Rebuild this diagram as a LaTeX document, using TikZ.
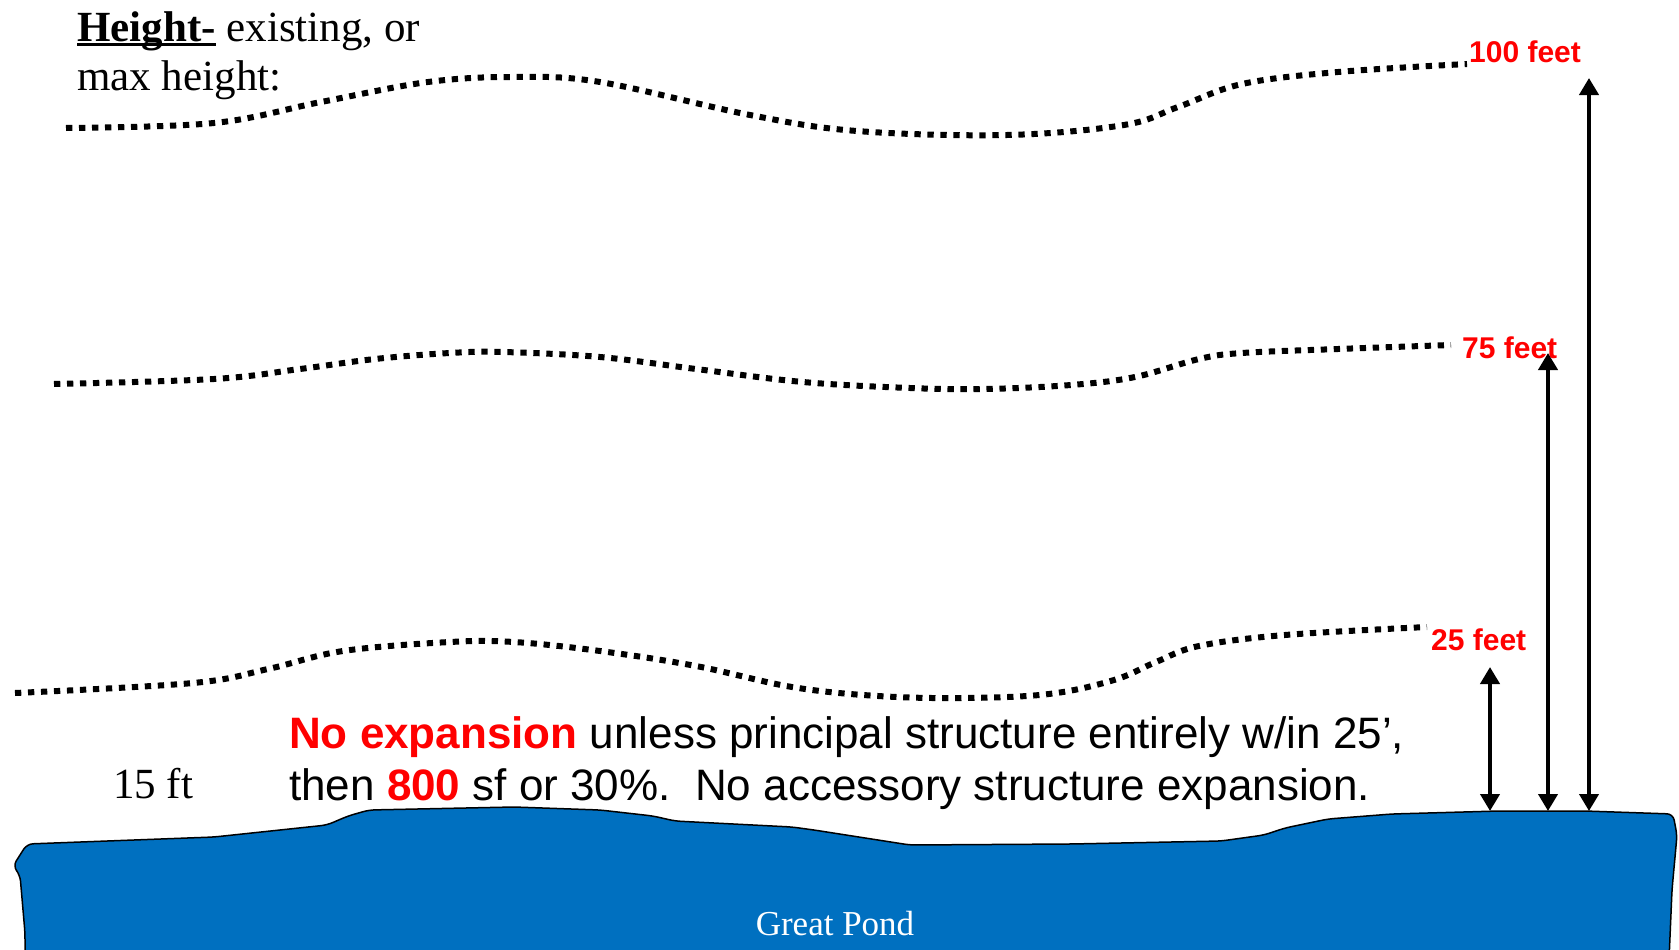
\documentclass[tikz,border=0pt]{standalone}
\usepackage{fontspec}
\setmainfont{Liberation Serif}
\newfontfamily\arialf{Liberation Sans}
\usetikzlibrary{arrows.meta}
\definecolor{pondblue}{HTML}{0070C0}
\definecolor{redlbl}{HTML}{FF0000}
\newcommand\thickul[1]{\setbox0\hbox{#1}\rlap{\rule[-5pt]{\wd0}{2.8pt}}\box0\relax}
\tikzset{
  dotline/.style={line width=6pt, dash pattern=on 6.3pt off 6.7pt, black},
  pond/.style={fill=pondblue, draw=black, line width=1.5pt, line join=round, rounded corners=6pt},
  feetlbl/.style={font=\arialf\bfseries\fontsize{30}{36}\selectfont, text=redlbl, inner sep=0pt, anchor=base west},
  htarrow/.style={line width=4pt, {Triangle[width=19pt,length=17pt]}-{Triangle[width=19pt,length=17pt]}},
  serif/.style={inner sep=0pt, anchor=base west, align=left},
}
\begin{document}
\begin{tikzpicture}[x=1pt,y=-1pt]
\useasboundingbox (0,0) rectangle (1679,950);

% pond
\path[pond] (25,960) -- (25,933) -- (20,875) -- (13,866) -- (27,844) -- (214,837) -- (327,825) -- (348,816) -- (369,810) -- (514,807) -- (600,810) -- (653,816) -- (675,821) -- (792,827) -- (814,830) -- (910,845) -- (1071,844) -- (1221,841) -- (1264,835) -- (1285,828) -- (1328,819) -- (1392,814) -- (1499,811) -- (1585,811) -- (1673,814) -- (1677,835) -- (1672,890) -- (1669,960) -- cycle;
\node[text=white, font=\fontsize{35}{40}\selectfont, inner sep=0pt, anchor=base] (pondname) at (835,935) {Great Pond};

% dotted height lines
\draw[dotline] plot[smooth, tension=0.6] coordinates {(66,128) (214,123) (321,102) (428,82) (514,77) (600,82) (750,115) (857,131) (1007,135) (1124,125) (1178,107) (1242,84) (1338,72) (1467,64)};
\draw[dotline] plot[smooth, tension=0.6] coordinates {(54,384) (214,379) (300,369) (375,359) (450,353) (503,352) (600,357) (696,369) (803,382) (910,388) (985,389) (1071,385) (1135,377) (1199,359) (1242,353) (1338,349) (1451,345)};
\draw[dotline] plot[smooth, tension=0.6] coordinates {(15,693) (193,683) (268,669) (343,651) (450,642) (514,642) (600,651) (696,666) (792,687) (878,696) (964,698) (1049,694) (1114,680) (1156,662) (1199,646) (1285,635) (1427,627)};

% labels
\node[feetlbl] (l100) at (1469,63) {100 feet};
\node[feetlbl] (l75) at (1462,358) {75 feet};
\node[feetlbl] (l25) at (1431,650) {25 feet};

% arrows
\coordinate (g25) at (1490,811);
\coordinate (t25) at (1490,667);
\coordinate (g75) at (1548,811);
\coordinate (t75) at (1548,353);
\coordinate (g100) at (1589,811);
\coordinate (t100) at (1589,78);
\draw[htarrow] (g25) -- (t25);
\draw[htarrow] (g75) -- (t75);
\draw[htarrow] (g100) -- (t100);

% texts
\node[serif, font=\fontsize{43}{50}\selectfont] (title) at (77,91) {\thickul{\bfseries Height-} existing, or\\max height:};
\node[serif, font=\fontsize{43}{50}\selectfont] (ft15) at (113,798) {15 ft};
\node[serif, font=\arialf\fontsize{44}{52}\selectfont] (rule) at (289,800) {{\color{redlbl}\bfseries No expansion} unless principal structure entirely w/in 25’,\\then {\color{redlbl}\bfseries 800} sf or 30\%.\ \ No accessory structure expansion.};
\end{tikzpicture}
\end{document}
